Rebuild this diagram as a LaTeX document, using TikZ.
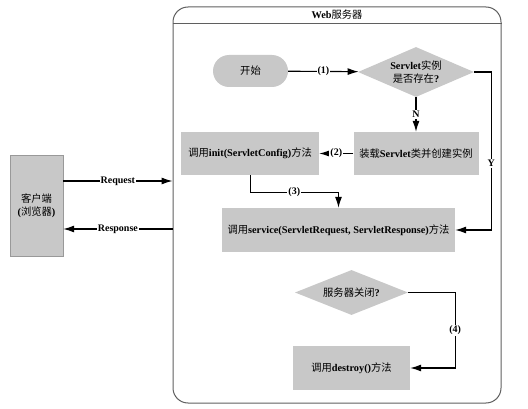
\documentclass[tikz,border=0pt]{standalone}
\usepackage{fontspec}
\setmainfont{Liberation Serif}
\newfontfamily\cjk{Noto Sans CJK SC}
\usetikzlibrary{positioning,arrows.meta,shapes.geometric}
\definecolor{boxgray}{RGB}{200,200,200}
\definecolor{framegray}{RGB}{95,95,95}
\newcommand{\zh}[1]{{\cjk\mdseries #1}}

\begin{document}
\begin{tikzpicture}[x=1pt, y=-1pt,
font=\fontsize{10.3}{12.5}\selectfont\bfseries,
box/.style={fill=boxgray, align=center, inner sep=2pt},
ask/.style={diamond, fill=boxgray, aspect=2.3, inner sep=1pt, align=center},
lbl/.style={fill=white, inner sep=1pt, font=\fontsize{10}{11}\selectfont\bfseries},
arr/.style={-{Latex[length=11pt,width=7pt]}, line width=1.1pt}
]
\useasboundingbox (0,0) rectangle (528,409);

% client and server frame
\node[box, draw=gray!80, minimum width=53, minimum height=101] (client) at (36.5,205.5) {\zh{客户端}\\(\zh{浏览器})};
\node[draw=framegray, line width=1pt, rounded corners=15pt, minimum width=328, minimum height=396] (web) at (337,205) {};
\node (title) at (337,15) {Web\zh{服务器}};
\draw[framegray, line width=0.8pt] (web.west |- 0,23) -- (web.east |- 0,23);

% servlet life cycle
\node[box, rounded corners=16pt, minimum width=75, minimum height=32] (start) at (250.5,71) {\zh{开始}};
\node[ask, minimum width=116, minimum height=50] (exists) at (416,72) {Servlet\zh{实例}\\\zh{是否存在}?};
\node[box, minimum width=125, minimum height=43] (load) at (416,153.5) {\zh{装载}Servlet\zh{类并创建实例}};
\node[box, minimum width=138, minimum height=43, left=34 of load] (init) {\zh{调用}init(ServletConfig)\zh{方法}};
\node[box, minimum width=233, minimum height=44] (service) at (338.5,230) {\zh{调用}service(ServletRequest, ServletResponse)\zh{方法}};
\node[ask, minimum width=113, minimum height=45] (close) at (351.5,292.5) {\zh{服务器关闭}?};
\node[box, minimum width=117, minimum height=44] (destroy) at (351.5,368) {\zh{调用}destroy()\zh{方法}};

\draw[arr] (start) -- node[lbl] {(1)} (exists);
\draw[arr] (exists) -- node[lbl] {N} (load);
\draw[arr] (load) -- node[lbl] {(2)} (init);
\draw[arr] (init.south) -- ++(0,17) -| node[lbl, pos=0.25] {(3)} (service.north);
\draw[arr] (exists.east) -- ++(17,0) |- node[lbl, pos=0.29] {Y} (service.east);
\draw[arr] (close.east) -- ++(47,0) |- node[lbl, pos=0.25] {(4)} (destroy.east);

\draw[arr] ([yshift=24.5pt]client.east) -- node[lbl] {Request} ([yshift=24.5pt]client.east -| web.west);
\draw[arr] ([yshift=-23.5pt]client.east -| web.west) -- node[lbl] {Response} ([yshift=-23.5pt]client.east);
\end{tikzpicture}
\end{document}
